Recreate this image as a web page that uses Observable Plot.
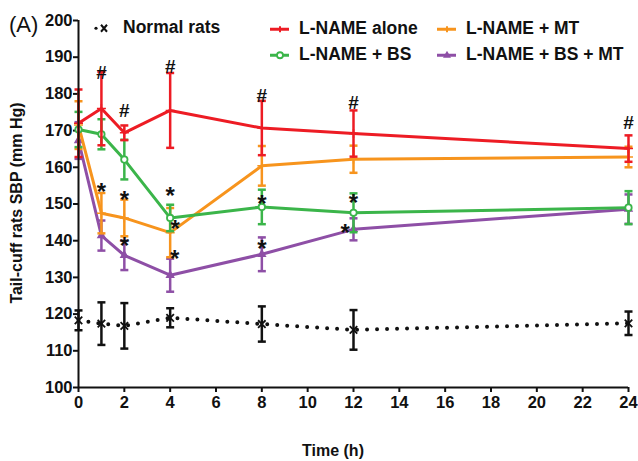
<!DOCTYPE html>
<html><head><meta charset="utf-8">
<script src="https://cdn.jsdelivr.net/npm/d3@7"></script>
<script src="https://cdn.jsdelivr.net/npm/@observablehq/plot@0.6"></script>
<style>
body{margin:0;background:#fff;}
#wrap{position:relative;width:638px;height:461px;font-family:"Liberation Sans",Arial,sans-serif;color:#111;}
.lab{position:absolute;font-weight:bold;font-size:16px;white-space:nowrap;line-height:1;}
.leg{position:absolute;display:flex;align-items:center;font-weight:bold;font-size:17.5px;white-space:nowrap;line-height:1;transform:translateY(-50%);}
.leg svg{margin-right:10px;}
</style></head><body><div id="wrap"></div>
<script>
// ---- data (Time in hours, SBP in mm Hg: mean and error) ----
const times = [0, 1, 2, 4, 8, 12, 24];
const seriesNames = ["Normal rats", "L-NAME alone", "L-NAME + MT", "L-NAME + BS", "L-NAME + BS + MT"];
const normalMean = [118.3, 117.4, 116.8, 119.0, 117.3, 115.7, 117.5];
const normalErr  = [2.7, 5.8, 6.2, 2.6, 4.8, 5.4, 3.2];
const lnameMean  = [172.0, 176.0, 169.4, 175.5, 170.7, 169.2, 165.1];
const lnameErr   = [9.2, 10.0, 2.0, 10.2, 7.4, 6.3, 3.6];
const mtMean     = [171.5, 147.5, 146.2, 142.2, 160.4, 162.2, 162.8];
const mtErr      = [6.5, 5.5, 5.0, 6.7, 5.4, 3.7, 2.8];
const bsMean     = [170.3, 169.0, 162.1, 146.2, 149.2, 147.6, 149.0];
const bsErr      = [4.8, 4.1, 5.4, 3.6, 4.7, 5.3, 4.5];
const bsmtMean   = [167.3, 141.4, 136.0, 130.6, 136.3, 143.1, 148.6];
const bsmtErr    = [5.0, 4.1, 4.0, 4.5, 4.6, 3.0, 4.0];
// significance marks (time, mm Hg)
const hashTime  = [1, 2, 4, 8, 12, 24];
const hashValue = [185.6, 175.5, 187.3, 179.4, 177.5, 172.0];
const starTime  = [1, 2, 2, 4, 4.22, 4.2, 8, 8, 12, 11.64];
const starValue = [155.0, 152.8, 140.5, 154.1, 144.9, 136.9, 151.9, 139.6, 152.0, 143.9];
const yTicks = [100, 110, 120, 130, 140, 150, 160, 170, 180, 190, 200];
const xTicks = [0, 2, 4, 6, 8, 10, 12, 14, 16, 18, 20, 22, 24];

const colors = {"Normal rats":"#111111","L-NAME alone":"#ed1c24","L-NAME + MT":"#f7941d","L-NAME + BS":"#3bb54a","L-NAME + BS + MT":"#8e4fa6"};
function rows(name, mean, err){ return times.map((t,i)=>({name, t, v:mean[i], lo:mean[i]-err[i], hi:mean[i]+err[i]})); }
const normal = rows(seriesNames[0], normalMean, normalErr);
const lname = rows(seriesNames[1], lnameMean, lnameErr);
const mt = rows(seriesNames[2], mtMean, mtErr);
const bs = rows(seriesNames[3], bsMean, bsErr);
const bsmt = rows(seriesNames[4], bsmtMean, bsmtErr);
const hashes = hashTime.map((t,i)=>({t, v:hashValue[i]}));
const stars = starTime.map((t,i)=>({t, v:starValue[i]}));

const capSymbol = {draw(ctx, size){ const r = Math.sqrt(size/Math.PI); ctx.moveTo(-r,0); ctx.lineTo(r,0); }};

function seriesMarks(data, marker){
  const c = colors[data[0].name];
  return [
    Plot.ruleX(data, {x:"t", y1:"lo", y2:"hi", stroke:c, strokeWidth:2.5}),
    Plot.dot(data, {x:"t", y:"lo", symbol:capSymbol, r:4, stroke:c, strokeWidth:2.5}),
    Plot.dot(data, {x:"t", y:"hi", symbol:capSymbol, r:4, stroke:c, strokeWidth:2.5}),
    Plot.line(data, {x:"t", y:"v", stroke:c, strokeWidth:3}),
    marker(data, c)
  ];
}

const chart = Plot.plot({
  width: 638, height: 461,
  marginLeft: 78, marginRight: 10, marginTop: 20, marginBottom: 74,
  style: {fontFamily: '"Liberation Sans", Arial, sans-serif', fontSize: "16.5px", fontWeight: "bold", color: "#111", background: "white", overflow: "visible"},
  x: {domain: [0, 24]},
  y: {domain: [100, 200]},
  marks: [
    Plot.axisY({ticks: yTicks, tickSize: 5, tickPadding: 1, strokeWidth: 2, label: null}),
    Plot.axisX({ticks: xTicks, tickSize: 5, tickPadding: 4, strokeWidth: 2, label: null}),
    // normal rats
    Plot.ruleX(normal, {x:"t", y1:"lo", y2:"hi", stroke:"#111", strokeWidth:2.5}),
    Plot.dot(normal, {x:"t", y:"lo", symbol:capSymbol, r:4, stroke:"#111", strokeWidth:2.5}),
    Plot.dot(normal, {x:"t", y:"hi", symbol:capSymbol, r:4, stroke:"#111", strokeWidth:2.5}),
    Plot.line(normal, {x:"t", y:"v", stroke:"#111", strokeWidth:4, strokeDasharray:"0 10", strokeLinecap:"round"}),
    Plot.dot(normal, {x:"t", y:"v", symbol:"times", r:3.5, stroke:"#111", strokeWidth:1.8}),
    ...seriesMarks(bsmt, (d,c)=>Plot.dot(d, {x:"t", y:"v", symbol:"triangle", r:3.5, fill:c})),
    ...seriesMarks(mt, (d,c)=>Plot.dot(d, {x:"t", y:"v", symbol:"plus", r:3, stroke:c, strokeWidth:1.5})),
    ...seriesMarks(bs, (d,c)=>Plot.dot(d, {x:"t", y:"v", symbol:"circle", r:3.2, stroke:c, fill:"white", strokeWidth:1.8})),
    ...seriesMarks(lname, (d,c)=>Plot.dot(d, {x:"t", y:"v", symbol:"plus", r:3, stroke:c, strokeWidth:1.5})),
    Plot.ruleX([0], {stroke:"#111", strokeWidth:2}),
    Plot.ruleY([100], {stroke:"#111", strokeWidth:2}),
    Plot.text(hashes, {x:"t", y:"v", text:()=>"#", fontSize:19, fontWeight:"bold", fill:"#111"}),
    Plot.text(stars, {x:"t", y:"v", text:()=>"*", fontSize:24, fontWeight:"bold", fill:"#111", dy:7})
  ]
});

const wrap = document.getElementById("wrap");
wrap.appendChild(chart);

function addDiv(cls, html, style){ const d=document.createElement("div"); d.className=cls; d.innerHTML=html; Object.assign(d.style, style); wrap.appendChild(d); return d; }
addDiv("lab", "(A)", {left:"9px", top:"14px", fontWeight:"normal", fontSize:"22px"});
addDiv("lab", "Tail-cuff rats SBP (mm Hg)", {left:"17px", top:"203px", transform:"translate(-50%,-50%) rotate(-90deg)"});
addDiv("lab", "Time (h)", {left:"333px", top:"451px", transform:"translate(-50%,-50%)"});

function legSymbol(name){
  const c = colors[name];
  let m = "";
  if (name==="Normal rats") return `<svg width="20" height="12"><circle cx="3" cy="6" r="1.6" fill="#111"/><path d="M8,2.5L14,9.5M14,2.5L8,9.5" stroke="#111" stroke-width="2"/></svg>`;
  if (name==="L-NAME alone" || name==="L-NAME + MT") m = `<path d="M10,3V9" stroke="${c}" stroke-width="2"/>`;
  if (name==="L-NAME + BS") m = `<circle cx="10" cy="6" r="3" fill="white" stroke="${c}" stroke-width="1.8"/>`;
  if (name==="L-NAME + BS + MT") m = `<path d="M10,1.5L14,8.5L6,8.5Z" fill="${c}"/>`;
  return `<svg width="19" height="12"><path d="M0,6H19" stroke="${c}" stroke-width="3"/>${m}</svg>`;
}
const legPos = {"Normal rats":[93,28], "L-NAME alone":[270,29], "L-NAME + MT":[437,29], "L-NAME + BS":[270,55], "L-NAME + BS + MT":[437,55]};
for (const n of seriesNames){
  const [x,y] = legPos[n];
  addDiv("leg", legSymbol(n) + `<span>${n}</span>`, {left:x+"px", top:y+"px"});
}
</script></body></html>
